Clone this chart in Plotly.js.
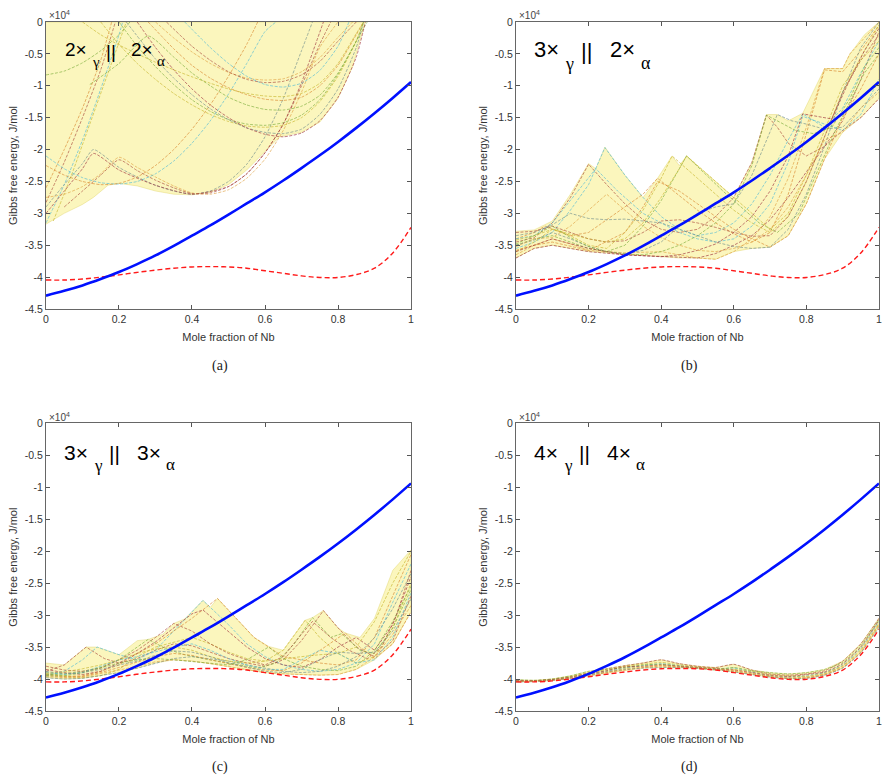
<!DOCTYPE html>
<html>
<head>
<meta charset="utf-8">
<script src="https://cdn.plot.ly/plotly-3.0.1.min.js"></script>
<style>
  html, body { margin: 0; padding: 0; background: #ffffff; }
  #chart { width: 891px; height: 780px; }
</style>
</head>
<body>
<div id="chart"></div>
<script>
// ---------- axis ticks ----------
const yTickVals = [-45000, -40000, -35000, -30000, -25000, -20000, -15000, -10000, -5000, 0];
const yTickText = ['-4.5', '-4', '-3.5', '-3', '-2.5', '-2', '-1.5', '-1', '-0.5', '0'];
const xTickVals = [0, 0.2, 0.4, 0.6, 0.8, 1];
const xTickText = ['0', '0.2', '0.4', '0.6', '0.8', '1'];

// ---------- shared composition grid (mole fraction of Nb) ----------
const moleFraction = [0, 0.05, 0.1, 0.15, 0.2, 0.25, 0.3, 0.35, 0.4, 0.45, 0.5,
                      0.55, 0.6, 0.65, 0.7, 0.75, 0.8, 0.85, 0.9, 0.95, 1];

// Gibbs free energy (J/mol) of the two reference curves, same in every panel
const gBlue = [-42900, -42150, -41300, -40300, -39200, -37950, -36600, -35100, -33500, -31900, -30200,
               -28450, -26700, -24850, -22900, -20900, -18800, -16600, -14300, -11900, -9400];
const gRedDashed = [-40450, -40450, -40300, -40000, -39650, -39250, -38900, -38600, -38400, -38350, -38400,
                    -38600, -39000, -39400, -39800, -40050, -40050, -39600, -38600, -36200, -32200];

// ---------- panel (a): 2x gamma || 2x alpha ----------
const curvesA_x = [
  [0, 0.05, 0.1, 0.15, 0.19],
  [0, 0.05, 0.1, 0.15, 0.2, 0.21],
  [0, 0.05, 0.1, 0.15, 0.18],
  [0.02, 0.07, 0.12, 0.17, 0.22],
  [0, 0.05, 0.1, 0.15, 0.2, 0.23],
  [0, 0.05, 0.1, 0.13, 0.2, 0.25, 0.3, 0.35, 0.4, 0.45, 0.5, 0.55, 0.6, 0.65, 0.7, 0.73],
  [0, 0.05, 0.1, 0.13, 0.2, 0.3, 0.4, 0.5, 0.55, 0.6, 0.65, 0.7, 0.76],
  [0, 0.05, 0.1, 0.15, 0.2, 0.25, 0.3, 0.35, 0.4, 0.45, 0.5, 0.55, 0.6, 0.65, 0.7, 0.75, 0.8],
  [0.05, 0.1, 0.15, 0.2, 0.25, 0.3, 0.35, 0.4, 0.45, 0.5, 0.55, 0.6, 0.65, 0.7, 0.75, 0.78],
  [0, 0.05, 0.1, 0.15, 0.2, 0.25, 0.3, 0.35, 0.4, 0.45, 0.5, 0.55, 0.6, 0.63],
  [0, 0.05, 0.1, 0.15, 0.2, 0.25, 0.3, 0.35, 0.4, 0.45, 0.5, 0.55, 0.58],
  [0.15, 0.2, 0.25, 0.3, 0.35, 0.4, 0.45, 0.5, 0.55, 0.6, 0.65, 0.7, 0.75, 0.8, 0.85, 0.87],
  [0.2, 0.25, 0.3, 0.35, 0.4, 0.45, 0.5, 0.55, 0.6, 0.65, 0.7, 0.75, 0.8, 0.85, 0.88],
  [0.22, 0.3, 0.35, 0.4, 0.45, 0.5, 0.55, 0.6, 0.65, 0.7, 0.75, 0.8, 0.85, 0.87],
  [0.25, 0.3, 0.35, 0.4, 0.45, 0.5, 0.55, 0.6, 0.65, 0.7, 0.75, 0.8, 0.85, 0.875],
  [0.3, 0.35, 0.4, 0.45, 0.5, 0.55, 0.6, 0.65, 0.7, 0.75, 0.8, 0.84],
  [0.33, 0.4, 0.45, 0.5, 0.55, 0.6, 0.65, 0.7, 0.75, 0.8, 0.85],
  [0.38, 0.45, 0.5, 0.55, 0.6, 0.65, 0.7, 0.75, 0.8, 0.83],
  [0.28, 0.35, 0.4, 0.45, 0.5, 0.55, 0.6, 0.65, 0.7, 0.75, 0.8, 0.85, 0.87],
  [0.1, 0.15, 0.2, 0.25, 0.3, 0.35, 0.4, 0.45, 0.5, 0.55, 0.6, 0.65, 0.7, 0.75, 0.8, 0.85, 0.87],
  [0.12, 0.2, 0.28, 0.35, 0.4, 0.45, 0.5, 0.55, 0.6, 0.65, 0.7, 0.75, 0.8, 0.85, 0.87]
];
const curvesA_y = [
  [-28300, -22000, -15000, -7500, 0],
  [-31500, -25500, -18500, -10500, -2000, 0],
  [-26000, -20000, -13500, -6000, 0],
  [-31200, -24000, -16000, -8000, 0],
  [-8300, -7700, -6400, -4500, -2000, 0],
  [-29000, -25500, -22200, -20000, -22800, -24300, -25600, -26500, -27000, -26500, -25000, -22300, -18000, -12000, -4500, 0],
  [-30000, -26500, -23000, -20600, -23200, -25600, -27000, -25800, -23800, -20500, -16000, -9500, 0],
  [-27500, -27000, -25800, -23800, -21200, -22800, -24300, -25700, -26800, -27000, -26300, -24500, -21500, -17000, -11000, -4000, 0],
  [-29000, -26500, -24000, -21600, -23300, -24800, -26000, -26900, -26800, -25800, -23800, -20500, -16000, -10000, -3500, 0],
  [-21000, -23000, -24400, -25200, -25400, -25000, -23800, -21800, -19000, -15500, -11300, -6500, -1500, 0],
  [-22500, -24000, -25000, -25500, -25300, -24300, -22500, -20000, -16800, -13000, -8500, -3500, 0],
  [0, -3500, -6500, -9000, -11200, -13000, -14500, -15600, -16300, -16500, -16200, -15000, -12500, -8500, -3000, 0],
  [0, -3800, -7000, -9800, -12200, -14000, -15300, -16000, -16200, -15800, -14600, -12200, -8200, -3000, 0],
  [0, -5800, -8800, -11400, -13600, -15300, -16600, -17300, -17500, -16800, -14500, -10500, -4000, 0],
  [0, -4000, -7500, -10500, -13000, -15000, -16600, -17600, -18000, -17400, -15500, -11800, -5500, 0],
  [0, -2500, -4700, -6500, -7900, -8800, -9100, -8900, -7800, -5600, -2400, 0],
  [0, -3800, -6000, -7800, -9000, -9500, -9300, -8300, -6200, -3000, 0],
  [0, -4000, -6500, -8500, -9800, -10200, -9600, -7600, -3800, 0],
  [0, -4200, -6800, -8800, -10300, -11400, -12100, -12300, -11800, -10000, -6800, -2000, 0],
  [0, -2000, -3600, -5000, -6300, -7500, -8600, -9600, -10500, -11200, -11600, -11700, -11200, -9600, -6500, -1800, 0],
  [-9800, -6500, -2200, -5500, -8000, -10000, -11800, -13000, -13700, -13800, -13200, -11500, -8000, -3000, 0]
];
const bandA_lowX = [0, 0.05, 0.1, 0.13, 0.17, 0.2, 0.25, 0.3, 0.35, 0.4, 0.45, 0.5, 0.55, 0.6, 0.64, 0.7, 0.75, 0.8, 0.84, 0.875];
const bandA_lowY = [-31700, -30000, -28600, -27500, -25600, -25300, -25700, -26500, -27000, -27100, -26700, -25500, -23200, -20300, -18000, -17300, -15700, -12000, -7000, 0];
const bandA_highX = [0, 0.875];
const bandA_highY = [0, 0];

// ---------- panel (b): 3x gamma || 2x alpha ----------
const curvesB_x = [
  [0, 0.05, 0.1, 0.15, 0.2, 0.25, 0.3, 0.35, 0.4, 0.45, 0.5, 0.55, 0.6, 0.65, 0.69, 0.72, 0.75, 0.8, 0.85, 0.9, 0.95, 1],
  [0, 0.05, 0.1, 0.15, 0.2, 0.245, 0.3, 0.35, 0.4, 0.45, 0.5, 0.55, 0.6, 0.65, 0.7, 0.75, 0.79, 0.85, 0.9, 0.95, 1],
  [0, 0.05, 0.08, 0.15, 0.2, 0.25, 0.3, 0.35, 0.39, 0.45, 0.5, 0.55, 0.6, 0.65, 0.7, 0.75, 0.8, 0.85, 0.9, 0.95, 1],
  [0, 0.05, 0.1, 0.15, 0.2, 0.25, 0.3, 0.35, 0.4, 0.43, 0.5, 0.55, 0.6, 0.65, 0.7, 0.75, 0.8, 0.85, 0.9, 0.95, 1],
  [0, 0.05, 0.1, 0.15, 0.2, 0.25, 0.3, 0.35, 0.4, 0.47, 0.52, 0.57, 0.62, 0.67, 0.72, 0.78, 0.83, 0.88, 0.92, 0.96, 1],
  [0, 0.05, 0.1, 0.15, 0.2, 0.25, 0.3, 0.35, 0.4, 0.45, 0.5, 0.55, 0.6, 0.65, 0.72, 0.76, 0.8, 0.85, 0.9, 0.95, 1],
  [0, 0.05, 0.1, 0.15, 0.2, 0.3, 0.4, 0.5, 0.55, 0.6, 0.65, 0.7, 0.75, 0.8, 0.85, 0.9, 0.95, 1],
  [0, 0.05, 0.1, 0.15, 0.2, 0.3, 0.4, 0.5, 0.55, 0.6, 0.65, 0.7, 0.75, 0.8, 0.85, 0.9, 0.92, 0.96, 1],
  [0, 0.05, 0.1, 0.15, 0.2, 0.25, 0.3, 0.35, 0.4, 0.45, 0.5, 0.55, 0.6, 0.65, 0.7, 0.75, 0.8, 0.85, 0.9, 0.95, 1],
  [0, 0.05, 0.1, 0.15, 0.22, 0.28, 0.35, 0.4, 0.45, 0.5, 0.55, 0.6, 0.65, 0.7, 0.75, 0.79, 0.85, 0.9, 0.95, 1],
  [0, 0.05, 0.1, 0.2, 0.3, 0.35, 0.39, 0.45, 0.5, 0.55, 0.6, 0.65, 0.7, 0.75, 0.8, 0.85, 0.9, 0.95, 1],
  [0, 0.05, 0.1, 0.15, 0.2, 0.25, 0.3, 0.35, 0.4, 0.45, 0.47, 0.52, 0.57, 0.62, 0.67, 0.7, 0.75, 0.8, 0.85, 0.9, 0.95, 1],
  [0, 0.05, 0.1, 0.15, 0.2, 0.25, 0.3, 0.35, 0.4, 0.45, 0.5, 0.55, 0.6, 0.65, 0.69, 0.72, 0.77, 0.82, 0.87, 0.92, 0.96, 1],
  [0, 0.05, 0.1, 0.15, 0.2, 0.25, 0.3, 0.35, 0.4, 0.45, 0.5, 0.55, 0.6, 0.65, 0.7, 0.75, 0.8, 0.85, 0.9, 0.95, 1],
  [0, 0.05, 0.1, 0.2, 0.3, 0.4, 0.45, 0.5, 0.55, 0.6, 0.65, 0.7, 0.75, 0.79, 0.83, 0.87, 0.92, 0.96, 1],
  [0, 0.05, 0.1, 0.15, 0.2, 0.25, 0.3, 0.35, 0.4, 0.45, 0.5, 0.55, 0.6, 0.65, 0.7, 0.75, 0.8, 0.85, 0.9, 0.95, 1]
];
const curvesB_y = [
  [-34500, -33800, -31500, -27500, -22300, -25500, -28500, -31000, -32500, -33000, -32500, -30500, -27500, -22000, -14600, -16500, -19000, -21000, -19500, -15500, -9000, -1500],
  [-35500, -34500, -33000, -29500, -25500, -19700, -24000, -27500, -30500, -32500, -33500, -33000, -31500, -28500, -24000, -18500, -14400, -16500, -13500, -8000, -3000],
  [-34000, -33000, -32000, -33500, -33000, -31000, -29000, -27000, -24500, -27200, -29500, -31500, -33200, -34500, -33000, -27000, -17500, -7500, -7800, -4500, -500],
  [-36000, -34500, -32500, -33500, -35000, -35500, -33000, -29500, -24500, -21000, -24500, -27000, -29500, -31500, -33000, -30500, -25000, -18000, -11000, -5500, -500],
  [-35000, -34000, -33500, -34500, -35500, -36000, -35000, -32000, -28000, -21000, -23800, -26500, -29000, -31500, -33000, -30000, -23500, -17000, -12500, -8000, -5000],
  [-35000, -34200, -33000, -34000, -35200, -36000, -36300, -35800, -34500, -32000, -30000, -29000, -28500, -24000, -14500, -15500, -16000, -16800, -16500, -13500, -10500],
  [-37000, -35500, -35000, -35500, -36000, -36500, -36700, -37000, -36300, -35000, -33500, -31000, -27500, -23500, -19500, -17000, -15000, -12000],
  [-36500, -35000, -34000, -34800, -35800, -36200, -36000, -37000, -37200, -36000, -34000, -30500, -24500, -16500, -7300, -7300, -5000, -2500, 0],
  [-33000, -32800, -32000, -33000, -34000, -34500, -34300, -33000, -31200, -31000, -31500, -32200, -33000, -33600, -33500, -30500, -25000, -18000, -11000, -6000, -2000],
  [-34000, -33500, -31500, -28000, -23000, -26500, -30000, -31500, -33000, -34000, -34500, -34000, -32000, -28500, -22000, -14800, -16000, -17000, -14500, -9000],
  [-35800, -35000, -34500, -35800, -33000, -29000, -25000, -26500, -28500, -30500, -32500, -34000, -35300, -33500, -28500, -21500, -15000, -10500, -5000],
  [-34200, -33500, -32500, -33200, -34000, -34500, -34000, -31500, -27500, -23000, -21000, -23500, -26000, -28500, -31000, -32500, -30000, -24000, -17000, -10000, -6000, -3000],
  [-34800, -33500, -32000, -33800, -35200, -36000, -36400, -36500, -36000, -35000, -33500, -31500, -28500, -22500, -14600, -15500, -17000, -17500, -16500, -12000, -7000, -4000],
  [-33500, -33000, -31800, -30000, -30800, -31000, -30900, -31200, -31500, -32500, -33500, -34500, -35200, -35500, -35300, -32500, -27000, -19500, -11000, -4000, 0],
  [-36000, -35000, -34000, -35500, -36500, -36800, -36500, -35800, -34800, -33000, -30500, -26500, -21000, -14400, -14800, -15200, -9000, -4500, -1000],
  [-35200, -34000, -33800, -32000, -29500, -27000, -29500, -32000, -33800, -35000, -35800, -36000, -35500, -34500, -32500, -29000, -24000, -18500, -17300, -13500, -11000]
];
const bandB_lowX = moleFraction;
const bandB_lowY = [-37000, -35500, -35000, -35500, -36000, -36200, -36500, -36600, -36800, -37000, -37000,
                    -37200, -36000, -35500, -35300, -33500, -28500, -21500, -17300, -15000, -12000];
const bandB_highX = [0, 0.05, 0.1, 0.15, 0.2, 0.22, 0.245, 0.3, 0.35, 0.39, 0.43, 0.45, 0.47, 0.52, 0.57, 0.6,
                     0.65, 0.69, 0.72, 0.75, 0.79, 0.85, 0.9, 0.92, 0.96, 1];
const bandB_highY = [-32800, -32600, -31200, -27000, -22200, -23000, -19600, -24000, -27500, -24500, -21000, -22500,
                     -21000, -23500, -26000, -27500, -22000, -14500, -14500, -15500, -14300, -7300, -7300, -5000, -2000, 0];

// ---------- panel (c): 3x gamma || 3x alpha ----------
const curvesC_x = [
  [0, 0.05, 0.11, 0.16, 0.2, 0.25, 0.3, 0.35, 0.4, 0.45, 0.5, 0.55, 0.6, 0.65, 0.7, 0.76, 0.8, 0.85, 0.9, 0.95, 1],
  [0, 0.05, 0.1, 0.14, 0.2, 0.25, 0.3, 0.35, 0.43, 0.5, 0.55, 0.6, 0.65, 0.7, 0.75, 0.8, 0.85, 0.9, 0.95, 1],
  [0, 0.05, 0.1, 0.15, 0.2, 0.25, 0.3, 0.35, 0.4, 0.47, 0.52, 0.57, 0.61, 0.65, 0.7, 0.75, 0.8, 0.85, 0.9, 0.95, 1],
  [0, 0.05, 0.1, 0.15, 0.2, 0.25, 0.3, 0.35, 0.4, 0.45, 0.5, 0.55, 0.6, 0.65, 0.71, 0.75, 0.8, 0.85, 0.9, 0.95, 1],
  [0, 0.05, 0.1, 0.15, 0.2, 0.25, 0.28, 0.33, 0.38, 0.43, 0.48, 0.53, 0.58, 0.63, 0.68, 0.73, 0.78, 0.81, 0.86, 0.9, 0.95, 1],
  moleFraction,
  [0, 0.05, 0.1, 0.15, 0.2, 0.25, 0.3, 0.35, 0.4, 0.43, 0.5, 0.55, 0.6, 0.65, 0.7, 0.75, 0.8, 0.85, 0.9, 0.95, 1],
  moleFraction,
  [0, 0.05, 0.1, 0.15, 0.2, 0.25, 0.3, 0.35, 0.4, 0.45, 0.5, 0.55, 0.6, 0.65, 0.7, 0.73, 0.78, 0.83, 0.88, 0.92, 0.96, 1],
  moleFraction,
  [0, 0.05, 0.1, 0.15, 0.2, 0.25, 0.3, 0.35, 0.4, 0.45, 0.5, 0.55, 0.6, 0.65, 0.7, 0.75, 0.82, 0.86, 0.9, 0.95, 1],
  moleFraction,
  [0, 0.05, 0.1, 0.15, 0.2, 0.25, 0.3, 0.35, 0.4, 0.45, 0.5, 0.55, 0.61, 0.65, 0.7, 0.75, 0.8, 0.85, 0.9, 0.95, 1],
  moleFraction
];
const curvesC_y = [
  [-38800, -37800, -35000, -36800, -37500, -36800, -35500, -34500, -34800, -35800, -36800, -37500, -38000, -37000, -34000, -29300, -32000, -35000, -36500, -34000, -27000],
  [-39500, -38800, -37000, -35000, -36200, -37000, -35500, -32500, -27700, -31500, -34500, -36500, -37800, -38500, -38800, -38500, -37500, -34500, -28000, -22000],
  [-39200, -39600, -39500, -38800, -37800, -36000, -34500, -32500, -30500, -27400, -30500, -33500, -35000, -36500, -37000, -37500, -37800, -37000, -33500, -27000, -20500],
  [-39000, -39500, -39800, -39500, -38500, -36500, -35000, -34200, -33500, -34500, -35800, -36800, -37200, -35500, -30800, -33500, -36000, -37500, -36500, -32000, -25000],
  [-39300, -39200, -38800, -38200, -37000, -35000, -33800, -35300, -36200, -36800, -37300, -37800, -38300, -37500, -34500, -30400, -33500, -32900, -35500, -36000, -32000, -26000],
  [-39800, -40000, -39900, -39500, -39000, -38300, -37500, -36800, -36500, -36800, -37200, -37800, -38300, -38800, -39000, -38800, -38000, -36500, -33500, -29000, -23500],
  [-38500, -39000, -39300, -38800, -37500, -36000, -34200, -32000, -29800, -29200, -32500, -35000, -36800, -37800, -38200, -37000, -35000, -33500, -35500, -31500, -24000],
  [-39600, -39800, -39700, -39200, -38600, -38000, -37300, -37000, -37200, -37600, -38100, -38600, -39000, -39200, -39300, -39400, -39300, -38500, -36500, -33000, -28500],
  [-38000, -38600, -38800, -38300, -37000, -35500, -33500, -31300, -32500, -34500, -36000, -37000, -37800, -36500, -33000, -31000, -33500, -35500, -36800, -35000, -30000, -23000],
  [-39000, -39300, -39000, -38000, -37000, -36500, -35800, -35000, -34500, -35500, -36800, -37800, -38500, -38500, -37000, -35500, -36000, -37500, -37000, -33500, -26500],
  [-39400, -39700, -39600, -39000, -38200, -37300, -36500, -36000, -36300, -37000, -37600, -38200, -38600, -38700, -37500, -35500, -32800, -35000, -36800, -34500, -29500],
  [-39100, -38900, -38400, -37800, -37000, -36000, -35300, -35000, -35500, -36500, -37200, -37500, -37200, -36800, -36500, -36200, -36000, -35000, -31000, -25000, -20000],
  [-39500, -39500, -39000, -38200, -37500, -37000, -36800, -37000, -37300, -37600, -37800, -37000, -35000, -36800, -38000, -38500, -38700, -38000, -35500, -31000, -25500],
  [-38800, -39200, -39000, -38500, -37800, -37200, -36300, -35600, -35800, -36500, -37500, -38200, -38800, -39000, -38500, -37000, -35800, -36000, -35800, -32500, -27500]
];
const bandC_lowX = moleFraction;
const bandC_lowY = [-39800, -40000, -39900, -39500, -39000, -38300, -37500, -37000, -37200, -37600, -38100,
                    -38600, -39000, -39200, -39300, -39400, -39300, -38500, -37000, -34500, -29500];
const bandC_highX = [0, 0.05, 0.11, 0.14, 0.2, 0.25, 0.28, 0.32, 0.35, 0.38, 0.43, 0.45, 0.47, 0.52, 0.57, 0.61,
                     0.65, 0.71, 0.73, 0.76, 0.8, 0.82, 0.86, 0.9, 0.95, 1];
const bandC_highY = [-37500, -37800, -35000, -35000, -36200, -34000, -33800, -33000, -31300, -30600, -27700, -28800,
                     -27400, -30500, -33500, -34900, -35500, -30800, -30400, -29300, -32000, -32800, -33500, -30500, -23000, -19800];

// ---------- panel (d): 4x gamma || 4x alpha (all on moleFraction grid) ----------
const curvesD_y = [
  [-40200, -40300, -40100, -39700, -39000, -38400, -37900, -37500, -37000, -37600, -38000, -38200, -37700, -38600, -39200, -39400, -39200, -38700, -37200, -34500, -30500],
  [-40300, -40350, -40150, -39800, -39300, -38800, -38300, -37900, -37600, -37900, -38200, -38400, -38300, -38900, -39500, -39700, -39500, -39000, -37800, -35200, -31000],
  [-40400, -40400, -40250, -39900, -39500, -39000, -38600, -38200, -38000, -38100, -38300, -38500, -38800, -39200, -39600, -39900, -39800, -39300, -38200, -35800, -31600],
  [-40350, -40300, -40000, -39600, -39100, -38600, -38000, -37700, -37400, -37800, -38100, -38300, -38500, -38800, -39300, -39500, -39600, -39100, -37900, -35400, -31300],
  [-40100, -40200, -40000, -39500, -38800, -38500, -38200, -37800, -37700, -38000, -38300, -38600, -38200, -38700, -39000, -39200, -39000, -38500, -37400, -34800, -30700],
  [-40450, -40400, -40200, -39850, -39400, -38900, -38500, -38300, -38200, -38200, -38300, -38500, -38900, -39300, -39700, -39950, -39900, -39400, -38300, -35900, -31900],
  [-40250, -40250, -40100, -39700, -39200, -38700, -38100, -38000, -37800, -38000, -38200, -38400, -38600, -39000, -39400, -39600, -39300, -38900, -37600, -35000, -30800],
  [-40300, -40350, -40200, -39800, -39300, -38900, -38400, -38100, -37900, -38050, -38250, -38450, -38700, -39100, -39500, -39800, -39700, -39200, -38000, -35600, -31400]
];
const bandD_lowX = moleFraction;
const bandD_lowY = [-40450, -40400, -40250, -39900, -39500, -39000, -38600, -38300, -38200, -38200, -38300,
                    -38500, -38900, -39300, -39700, -39950, -39900, -39400, -38300, -35900, -31900];
const bandD_highX = moleFraction;
const bandD_highY = [-40100, -40200, -40000, -39500, -38800, -38400, -37900, -37500, -37000, -37600, -38000,
                     -38200, -37700, -38600, -39000, -39200, -39000, -38500, -37200, -34500, -30500];

// ---------- labels ----------
const headingLeft = ['2×', '3×', '3×', '4×'];
const headingRight = ['2×', '2×', '3×', '4×'];
const headingSub1 = 'γ';
const headingSub2 = 'α';
const headingBars = '||';
const panelCaptions = ['(a)', '(b)', '(c)', '(d)'];
const xTitle = 'Mole fraction of Nb';
const yTitle = 'Gibbs free energy, J/mol';

// faded line palette used for the individual configurations
const lineColors = ['#a8473a', '#4fb9d6', '#d8862e', '#c7b52c', '#7aab3a', '#6e8c8a', '#9e2f3c', '#e0a040'];

// ---------- build ----------
const panels = [
  { xa: 'x',  ya: 'y',  cx: curvesA_x, cy: curvesA_y, lx: bandA_lowX, ly: bandA_lowY, hx: bandA_highX, hy: bandA_highY, smooth: true },
  { xa: 'x2', ya: 'y2', cx: curvesB_x, cy: curvesB_y, lx: bandB_lowX, ly: bandB_lowY, hx: bandB_highX, hy: bandB_highY, smooth: false },
  { xa: 'x3', ya: 'y3', cx: curvesC_x, cy: curvesC_y, lx: bandC_lowX, ly: bandC_lowY, hx: bandC_highX, hy: bandC_highY, smooth: false },
  { xa: 'x4', ya: 'y4', cx: curvesD_y.map(() => moleFraction), cy: curvesD_y, lx: bandD_lowX, ly: bandD_lowY, hx: bandD_highX, hy: bandD_highY, smooth: true }
];

const traces = [];
panels.forEach(p => {
  // shaded region spanned by the configurations
  traces.push({
    type: 'scatter', mode: 'lines', xaxis: p.xa, yaxis: p.ya,
    x: p.lx.concat(p.hx.slice().reverse()),
    y: p.ly.concat(p.hy.slice().reverse()),
    fill: 'toself', fillcolor: 'rgba(245,232,90,0.40)',
    line: { width: 0.6, color: 'rgba(215,200,70,0.55)' }, hoverinfo: 'skip'
  });
  p.cy.forEach((ys, i) => {
    traces.push({
      type: 'scatter', mode: 'lines', xaxis: p.xa, yaxis: p.ya,
      x: p.cx[i], y: ys,
      line: { width: 0.8, color: lineColors[i % lineColors.length], dash: '3px,1.5px',
              shape: p.smooth ? 'spline' : 'linear', smoothing: 0.6 },
      opacity: 0.8
    });
  });
  traces.push({
    type: 'scatter', mode: 'lines', xaxis: p.xa, yaxis: p.ya,
    x: moleFraction, y: gRedDashed,
    line: { width: 1.4, color: '#ff1a1a', dash: '5px,3px', shape: 'spline' }
  });
  traces.push({
    type: 'scatter', mode: 'lines', xaxis: p.xa, yaxis: p.ya,
    x: moleFraction, y: gBlue,
    line: { width: 2.6, color: '#0010ff', shape: 'spline' }
  });
});

const xDomL = [0.0516, 0.4613], xDomR = [0.5791, 0.9865];
const yDomT = [0.6038, 0.9718], yDomB = [0.0885, 0.4573];
const sans = 'Liberation Sans, Arial, sans-serif';
const serif = 'Liberation Serif, Times New Roman, serif';

function xAxis(domain, anchor) {
  return {
    domain: domain, anchor: anchor, range: [0, 1],
    tickvals: xTickVals, ticktext: xTickText,
    ticks: 'inside', ticklen: 4, tickcolor: '#555', tickwidth: 1,
    showline: true, linecolor: '#666', linewidth: 1, mirror: 'ticks',
    showgrid: false, zeroline: false,
    tickfont: { family: sans, size: 10.5, color: '#333' },
    title: { text: xTitle, standoff: 9, font: { family: sans, size: 11, color: '#333' } }
  };
}
function yAxis(domain, anchor) {
  return {
    domain: domain, anchor: anchor, range: [-45000, 0],
    tickvals: yTickVals, ticktext: yTickText,
    ticks: 'inside', ticklen: 4, tickcolor: '#555', tickwidth: 1,
    showline: true, linecolor: '#666', linewidth: 1, mirror: 'ticks',
    showgrid: false, zeroline: false,
    tickfont: { family: sans, size: 10.5, color: '#333' },
    title: { text: yTitle, standoff: 4, font: { family: sans, size: 11, color: '#333' } }
  };
}

const W = 891, H = 780;
const px = (v) => v / W, py = (v) => 1 - v / H;
function note(x, y, text, font, xanchor) {
  return { xref: 'paper', yref: 'paper', x: px(x), y: py(y), xanchor: xanchor || 'left', yanchor: 'middle',
           text: text, showarrow: false, font: font };
}

const annotations = [];
// exponent markers
[[47, 15], [517, 15], [47, 417], [517, 417]].forEach(([ax, ay]) => {
  annotations.push(note(ax, ay, '×10<sup>4</sup>', { family: sans, size: 10, color: '#444' }));
});
// panel headings: [left x, baseline-centre y, main font size]
[[63, 50, 19], [532, 50, 22], [62, 452, 21], [532, 452, 21]].forEach(([ax, ay, fs], i) => {
  const k = fs / 22;
  const main = { family: sans, size: fs, color: '#000' };
  const greek = { family: serif, size: Math.round(fs * 0.8), color: '#000' };
  annotations.push(note(ax, ay, headingLeft[i], main));
  annotations.push(note(ax + 31 * k, ay + 14 * k, headingSub1, greek));
  annotations.push(note(ax + 47 * k, ay + 2 * k, headingBars, main));
  annotations.push(note(ax + 76 * k, ay, headingRight[i], main));
  annotations.push(note(ax + 107 * k, ay + 13 * k, headingSub2, greek));
});
// captions
[[220, 366], [689, 366], [220, 767], [689, 767]].forEach(([ax, ay], i) => {
  annotations.push(note(ax, ay, panelCaptions[i], { family: serif, size: 14, color: '#222' }, 'center'));
});

const layout = {
  width: W, height: H,
  margin: { l: 0, r: 0, t: 0, b: 0, autoexpand: false },
  paper_bgcolor: '#ffffff', plot_bgcolor: '#ffffff',
  showlegend: false,
  xaxis: xAxis(xDomL, 'y'), yaxis: yAxis(yDomT, 'x'),
  xaxis2: xAxis(xDomR, 'y2'), yaxis2: yAxis(yDomT, 'x2'),
  xaxis3: xAxis(xDomL, 'y3'), yaxis3: yAxis(yDomB, 'x3'),
  xaxis4: xAxis(xDomR, 'y4'), yaxis4: yAxis(yDomB, 'x4'),
  annotations: annotations
};

Plotly.newPlot('chart', traces, layout, { staticPlot: true, displayModeBar: false });
</script>
</body>
</html>
